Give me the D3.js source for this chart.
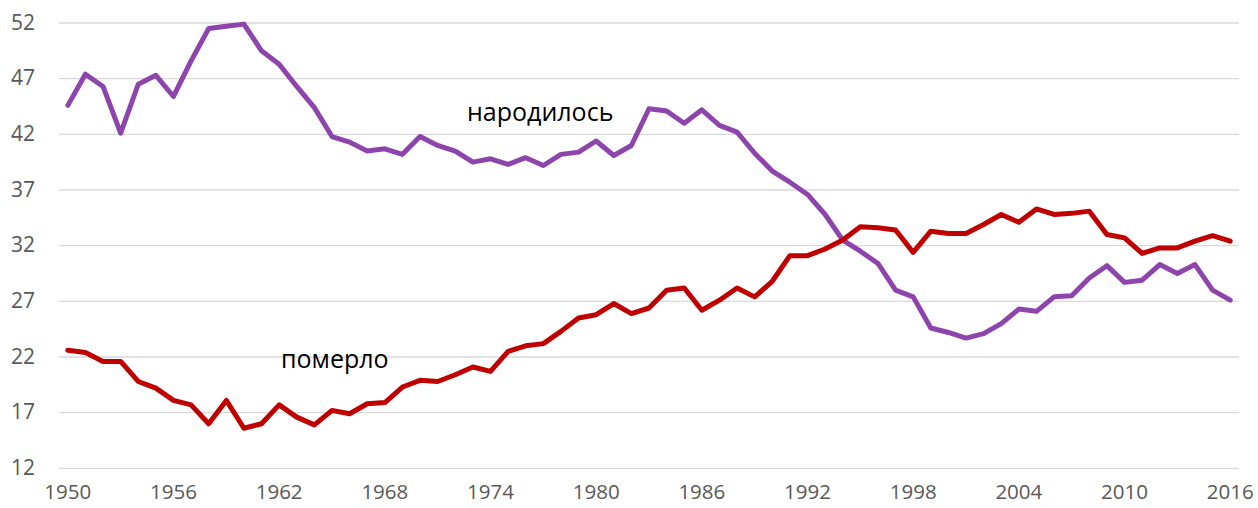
<!DOCTYPE html>
<html>
<head>
<meta charset="utf-8">
<script src="https://cdn.jsdelivr.net/npm/d3@7"></script>
<style>
  html, body { margin: 0; padding: 0; background: #fff; }
  svg { display: block; }
</style>
</head>
<body>
<svg id="chart" width="1258" height="508"></svg>
<script>
const years = d3.range(1950, 2017);

const born = [
  44.6, 47.4, 46.3, 42.1, 46.5, 47.3, 45.4, 48.6, 51.5, 51.7,
  51.9, 49.5, 48.3, 46.3, 44.4, 41.8, 41.3, 40.5, 40.7, 40.2,
  41.8, 41.0, 40.5, 39.5, 39.8, 39.3, 39.9, 39.2, 40.2, 40.4,
  41.4, 40.1, 41.0, 44.3, 44.1, 43.0, 44.2, 42.8, 42.2, 40.3,
  38.7, 37.7, 36.6, 34.8, 32.5, 31.5, 30.4, 28.0, 27.4, 24.6,
  24.2, 23.7, 24.1, 25.0, 26.3, 26.1, 27.4, 27.5, 29.1, 30.2,
  28.7, 28.9, 30.3, 29.5, 30.3, 28.0, 27.1
];

const died = [
  22.6, 22.4, 21.6, 21.6, 19.8, 19.2, 18.1, 17.7, 16.0, 18.1,
  15.6, 16.0, 17.7, 16.6, 15.9, 17.2, 16.9, 17.8, 17.9, 19.3,
  19.9, 19.8, 20.4, 21.1, 20.7, 22.5, 23.0, 23.2, 24.3, 25.5,
  25.8, 26.8, 25.9, 26.4, 28.0, 28.2, 26.2, 27.1, 28.2, 27.4,
  28.8, 31.1, 31.1, 31.7, 32.5, 33.7, 33.6, 33.4, 31.4, 33.3,
  33.1, 33.1, 33.9, 34.8, 34.1, 35.3, 34.8, 34.9, 35.1, 33.0,
  32.7, 31.3, 31.8, 31.8, 32.4, 32.9, 32.4
];

const yTicks = [12, 17, 22, 27, 32, 37, 42, 47, 52];
const xTickYears = [1950, 1956, 1962, 1968, 1974, 1980, 1986, 1992, 1998, 2004, 2010, 2016];
const seriesNames = ["народилось", "померло"];

const svg = d3.select("#chart");
const x = d3.scalePoint().domain(years).range([59, 1239]).padding(0.5);
const y = d3.scaleLinear().domain([12, 52]).range([468.3, 23]);

// gridlines
svg.append("g").selectAll("line").data(yTicks).join("line")
  .attr("x1", 59).attr("x2", 1239)
  .attr("y1", d => y(d)).attr("y2", d => y(d))
  .attr("stroke", "#d9d9d9").attr("stroke-width", 1.3);

// y labels
svg.append("g").selectAll("text").data(yTicks).join("text")
  .attr("x", 35).attr("y", d => y(d) + 1)
  .attr("text-anchor", "end").attr("dominant-baseline", "middle")
  .attr("font-family", "'Open Sans', sans-serif").attr("font-size", 21)
  .attr("fill", "#595959")
  .text(d => d);

// x labels
svg.append("g").selectAll("text").data(xTickYears).join("text")
  .attr("x", d => x(d)).attr("y", 494)
  .attr("text-anchor", "middle").attr("dominant-baseline", "middle")
  .attr("font-family", "'Open Sans', sans-serif").attr("font-size", 20.5)
  .attr("fill", "#595959")
  .text(d => d);

const line = d3.line().x((d, i) => x(years[i])).y(d => y(d));

svg.append("path").datum(born)
  .attr("d", line).attr("fill", "none")
  .attr("stroke", "#8E44AD").attr("stroke-width", 5)
  .attr("stroke-linejoin", "round").attr("stroke-linecap", "round");

svg.append("path").datum(died)
  .attr("d", line).attr("fill", "none")
  .attr("stroke", "#C00000").attr("stroke-width", 5)
  .attr("stroke-linejoin", "round").attr("stroke-linecap", "round");

// annotations
svg.append("text")
  .attr("x", 467).attr("y", 121)
  .attr("font-family", "'Open Sans', sans-serif").attr("font-size", 25)
  .attr("fill", "#000")
  .text(seriesNames[0]);

svg.append("text")
  .attr("x", 281).attr("y", 368)
  .attr("font-family", "'Open Sans', sans-serif").attr("font-size", 25)
  .attr("fill", "#000")
  .text(seriesNames[1]);
</script>
</body>
</html>
